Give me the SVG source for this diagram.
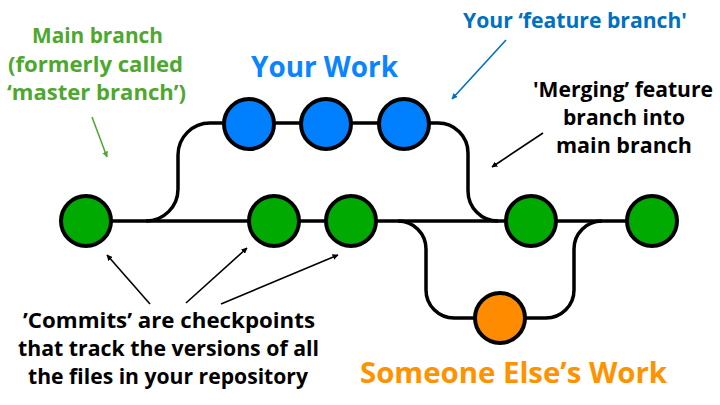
<svg xmlns="http://www.w3.org/2000/svg" width="720" height="405" viewBox="0 0 720 405">
  <style>
    .t { font-family: "Open Sans", "Liberation Sans", sans-serif; font-weight: 700; text-anchor: middle; }
    .line { fill: none; stroke: #000; stroke-width: 3.5; }
    .node { stroke: #000; stroke-width: 4; }
    .g { fill: #00AA00; }
    .b { fill: #0080FF; }
    .o { fill: #FF8C00; }
    .ann { fill: none; stroke-width: 1.6; }
  </style>
  <defs>
    <marker id="ah-k" viewBox="0 0 10 10" refX="9" refY="5" markerWidth="6" markerHeight="6" orient="auto" markerUnits="userSpaceOnUse">
      <path d="M0,0 L10,5 L0,10 z" fill="#000"/>
    </marker>
    <marker id="ah-g" viewBox="0 0 10 10" refX="9" refY="5" markerWidth="6" markerHeight="6" orient="auto" markerUnits="userSpaceOnUse">
      <path d="M0,0 L10,5 L0,10 z" fill="#4EA72E"/>
    </marker>
    <marker id="ah-b" viewBox="0 0 10 10" refX="9" refY="5" markerWidth="6" markerHeight="6" orient="auto" markerUnits="userSpaceOnUse">
      <path d="M0,0 L10,5 L0,10 z" fill="#0070C0"/>
    </marker>
  </defs>

  <g id="connectors">
    <path class="line" d="M86 221 H652"/>
    <path class="line" d="M146 221 A32 32 0 0 0 178 189 V155 A32 32 0 0 1 210 123 H438 A30 30 0 0 1 468 153 V191 A30 30 0 0 0 498 221"/>
    <path class="line" d="M398 221 A28 28 0 0 1 426 249 V290 A28 28 0 0 0 454 318 H546 A28 28 0 0 0 574 290 V249 A28 28 0 0 1 602 221"/>
  </g>

  <g id="n1"><circle class="node g" cx="86" cy="221" r="25"/></g>
  <g id="n2"><circle class="node g" cx="274" cy="221" r="25"/></g>
  <g id="n3"><circle class="node g" cx="351" cy="221" r="25"/></g>
  <g id="n4"><circle class="node g" cx="531" cy="221" r="25"/></g>
  <g id="n5"><circle class="node g" cx="652" cy="221" r="25"/></g>
  <g id="b1"><circle class="node b" cx="249" cy="124" r="25"/></g>
  <g id="b2"><circle class="node b" cx="326" cy="124" r="25"/></g>
  <g id="b3"><circle class="node b" cx="404" cy="124" r="25"/></g>
  <g id="o1"><circle class="node o" cx="500" cy="318" r="25"/></g>

  <g id="annotations">
    <path class="ann" stroke="#4EA72E" d="M92 117 L107 157" marker-end="url(#ah-g)"/>
    <path class="ann" stroke="#0070C0" d="M506 40 L452 99" marker-end="url(#ah-b)"/>
    <path class="ann" stroke="#000" d="M543 133 L492 167" marker-end="url(#ah-k)"/>
    <path class="ann" stroke="#000" d="M150 304 L107 255" marker-end="url(#ah-k)"/>
    <path class="ann" stroke="#000" d="M186 303 L247 248" marker-end="url(#ah-k)"/>
    <path class="ann" stroke="#000" d="M221 304 L338 255" marker-end="url(#ah-k)"/>
  </g>

  <g id="labels">
    <text class="t" fill="#4EA72E" font-size="21" x="97.5" y="43" textLength="131" lengthAdjust="spacingAndGlyphs">Main branch</text>
    <text class="t" fill="#4EA72E" font-size="21" x="95.5" y="72" textLength="175" lengthAdjust="spacingAndGlyphs">(formerly called</text>
    <text class="t" fill="#4EA72E" font-size="21" x="96.5" y="100" textLength="179" lengthAdjust="spacingAndGlyphs">‘master branch’)</text>
    <text class="t" fill="#0A84FF" font-size="28" x="324.5" y="77" textLength="147" lengthAdjust="spacingAndGlyphs">Your Work</text>
    <text class="t" fill="#0070C0" font-size="21" x="575" y="28" textLength="224" lengthAdjust="spacingAndGlyphs">Your ‘feature branch'</text>
    <text class="t" fill="#000" font-size="21" x="623" y="97" textLength="180" lengthAdjust="spacingAndGlyphs">'Merging’ feature</text>
    <text class="t" fill="#000" font-size="21" x="624" y="125" textLength="122" lengthAdjust="spacingAndGlyphs">branch into</text>
    <text class="t" fill="#000" font-size="21" x="624" y="153" textLength="136" lengthAdjust="spacingAndGlyphs">main branch</text>
    <text class="t" fill="#000" font-size="21" x="169" y="328" textLength="292" lengthAdjust="spacingAndGlyphs">’Commits’ are checkpoints</text>
    <text class="t" fill="#000" font-size="21" x="168.5" y="356" textLength="301" lengthAdjust="spacingAndGlyphs">that track the versions of all</text>
    <text class="t" fill="#000" font-size="21" x="168" y="384" textLength="280" lengthAdjust="spacingAndGlyphs">the files in your repository</text>
    <text class="t" fill="#FF9200" font-size="28" x="513.5" y="383" textLength="307" lengthAdjust="spacingAndGlyphs">Someone Else’s Work</text>
  </g>
</svg>
